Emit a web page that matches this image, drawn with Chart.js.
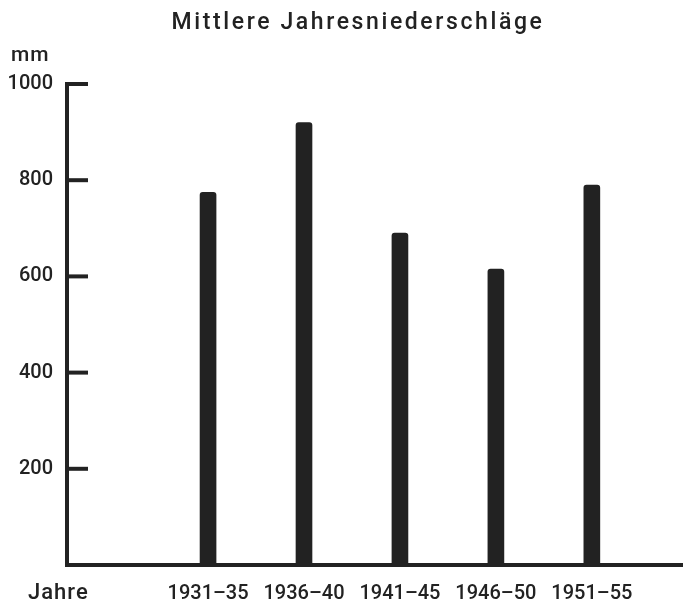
<!DOCTYPE html>
<html>
<head>
<meta charset="utf-8">
<script src="https://cdn.jsdelivr.net/npm/chart.js@4/dist/chart.umd.min.js"></script>
<style>
    html, body { margin: 0; padding: 0; background: #fff; }
    #wrap { width: 683px; height: 603px; }
</style>
</head>
<body>
<div id="wrap"><canvas id="rainChart"></canvas></div>
<script>
// =============================================
// DATA
// =============================================
const periods = ['1931–35', '1936–40', '1941–45', '1946–50', '1951–55'];
const rainfall = [775, 920, 690, 615, 790];
const yTicks = [200, 400, 600, 800, 1000];

const INK = '#222';
const FONT = 'Roboto, "Liberation Sans", Arial, sans-serif';

// title, unit labels and the inward tick marks
const axisDecor = {
    id: 'axisDecor',
    afterDraw(chart) {
        const { ctx, chartArea, scales } = chart;
        ctx.save();
        ctx.strokeStyle = INK;
        ctx.lineWidth = 4;
        yTicks.forEach(v => {
            const y = scales.y.getPixelForValue(v);
            ctx.beginPath();
            ctx.moveTo(chartArea.left - 2, y);
            ctx.lineTo(chartArea.left + 21, y);
            ctx.stroke();
        });

        ctx.fillStyle = INK;
        ctx.textBaseline = 'alphabetic';
        ctx.letterSpacing = '2.6px';
        ctx.font = '500 23px ' + FONT;
        ctx.textAlign = 'center';
        ctx.fillText('Mittlere Jahresniederschläge', 358, 29);

        ctx.letterSpacing = '1px';
        ctx.font = '500 21px ' + FONT;
        ctx.textAlign = 'left';
        ctx.fillText('mm', 11, 61);
        ctx.font = '500 22px ' + FONT;
        ctx.fillText('Jahre', 28, 599);
        ctx.restore();
    },
};

new Chart(document.getElementById('rainChart').getContext('2d'), {
    type: 'bar',
    data: {
        datasets: [{
            data: rainfall.map((v, i) => ({ x: i, y: v })),
            backgroundColor: INK,
            borderRadius: { topLeft: 3, topRight: 3 },
            borderSkipped: 'bottom',
            barThickness: 16,
        }],
    },
    options: {
        responsive: true,
        maintainAspectRatio: false,
        animation: false,
        layout: { padding: { top: 84 } },
        plugins: {
            legend: { display: false },
            tooltip: { enabled: false },
        },
        scales: {
            x: {
                type: 'linear',
                min: -1.47,
                max: 4.95,
                offset: false,
                grid: { display: false, drawTicks: false },
                border: { display: true, color: INK, width: 4 },
                afterBuildTicks: s => { s.ticks = periods.map((_, i) => ({ value: i })); },
                afterFit: s => { s.height = 38; },
                ticks: {
                    autoSkip: false,
                    maxRotation: 0,
                    padding: 17,
                    color: INK,
                    font: { family: FONT, size: 20, weight: '500' },
                    callback: v => periods[v] ?? '',
                },
            },
            y: {
                min: 0,
                max: 1000,
                grid: { display: false, drawTicks: false },
                border: { display: true, color: INK, width: 4 },
                afterBuildTicks: s => { s.ticks = yTicks.map(v => ({ value: v })); },
                afterFit: s => { s.width = 67; },
                ticks: {
                    padding: 14,
                    color: INK,
                    font: { family: FONT, size: 20, weight: '500' },
                    callback: v => String(v),
                },
            },
        },
    },
    plugins: [axisDecor],
});
</script>
</body>
</html>
